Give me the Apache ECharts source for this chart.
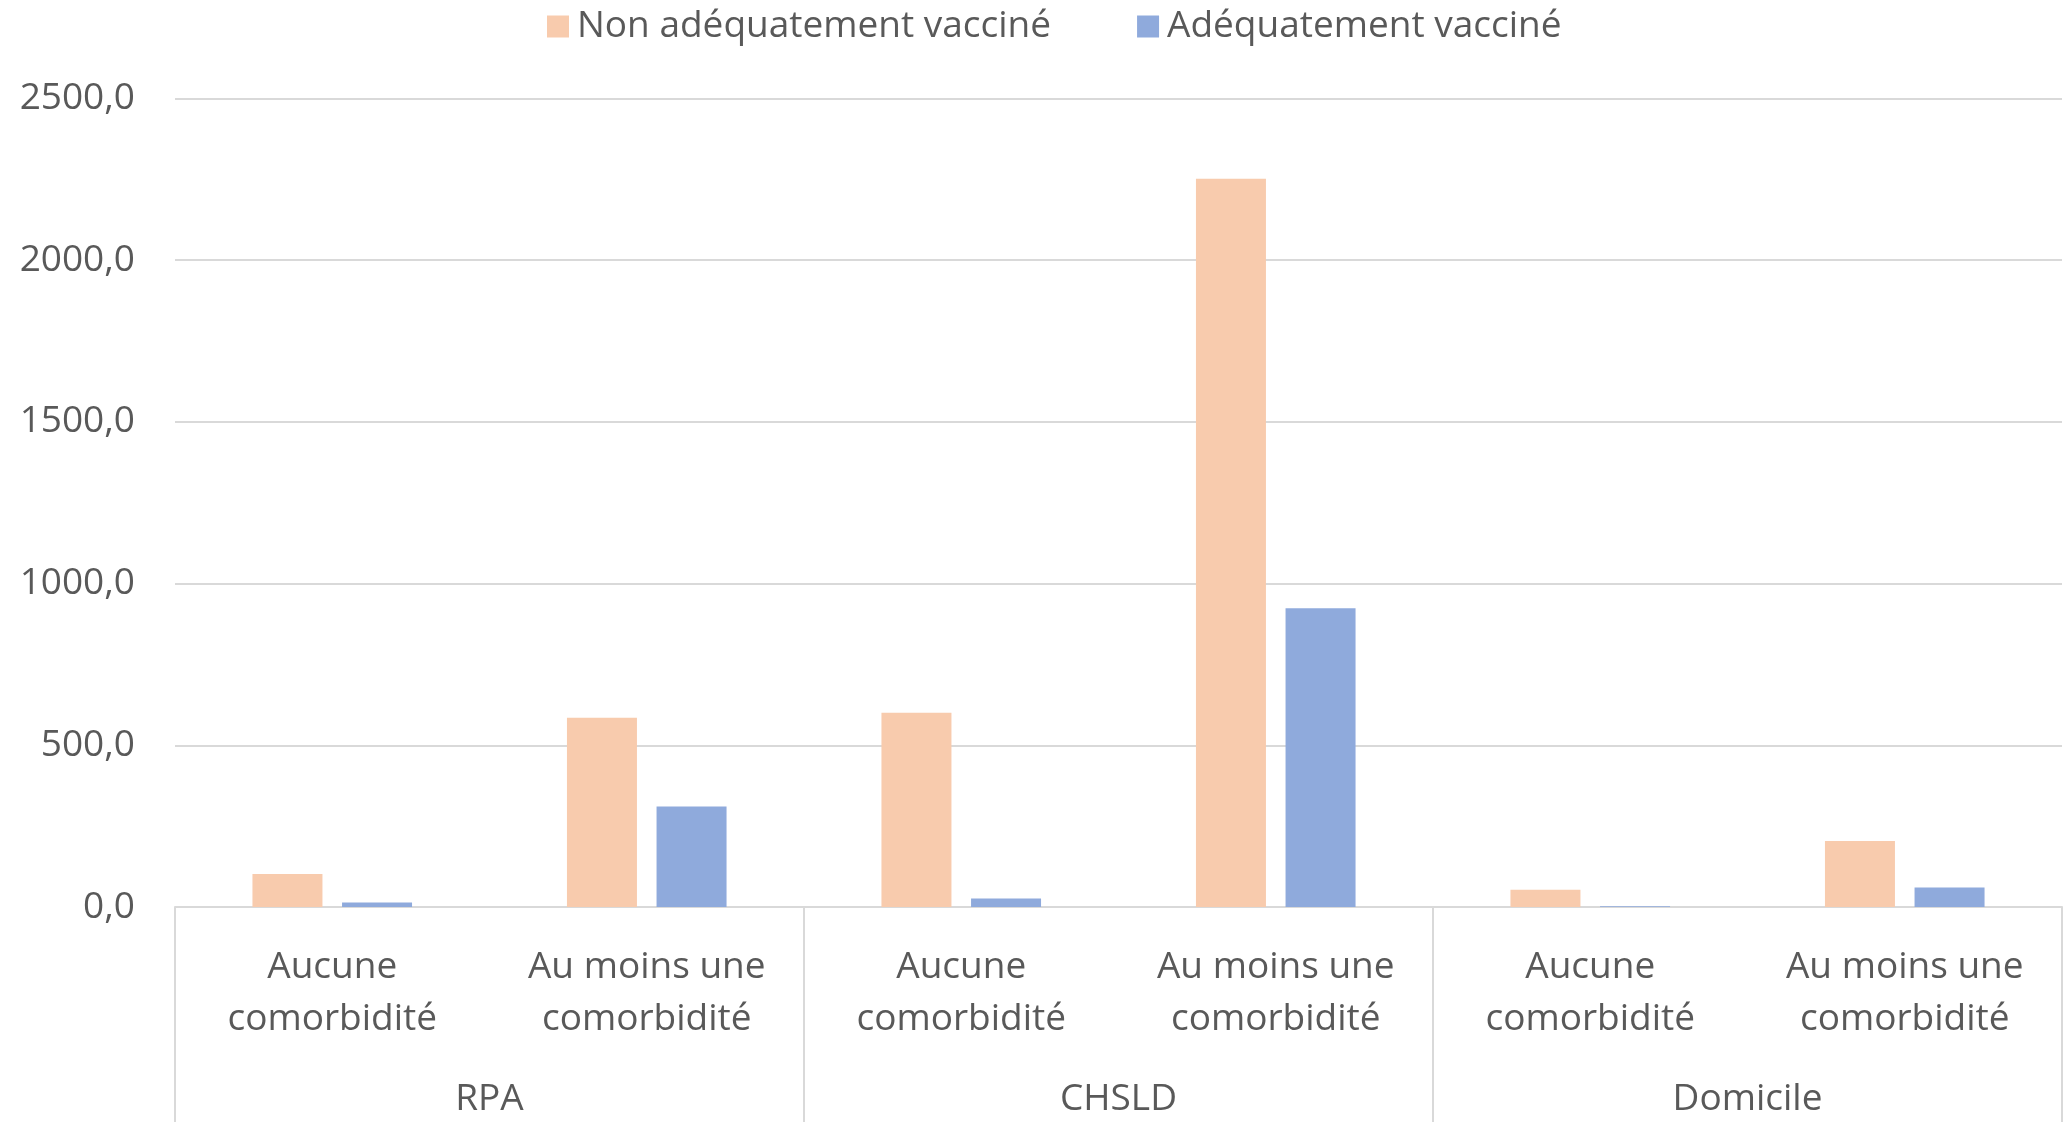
<!DOCTYPE html>
<html>
<head>
<meta charset="utf-8">
<script src="https://cdn.jsdelivr.net/npm/echarts@6/dist/echarts.min.js"></script>
<style>
  html, body { margin: 0; padding: 0; background: #ffffff; }
  #chart { width: 2069px; height: 1125px; }
</style>
</head>
<body>
<div id="chart"></div>
<script>
// Sub-categories (inner level) and living settings (outer level)
const subCategories = [
  'Aucune\ncomorbidité', 'Au moins une\ncomorbidité',
  'Aucune\ncomorbidité', 'Au moins une\ncomorbidité',
  'Aucune\ncomorbidité', 'Au moins une\ncomorbidité'
];
const groups = ['RPA', 'CHSLD', 'Domicile'];

const seriesNames = ['Non adéquatement vacciné', 'Adéquatement vacciné'];

const nonAdequat = [101.7, 585.0, 601.0, 2252.0, 53.0, 204.0];
const adequat = [14.0, 311.0, 26.5, 924.0, 2.0, 60.0];

const yTicks = { min: 0, max: 2500, interval: 500 };

const FONT = '"Open Sans", "Noto Sans", sans-serif';
const TEXT = '#595959';
const LINE = '#d9d9d9';
const FS = 37;

const chart = echarts.init(document.getElementById('chart'), null, { renderer: 'canvas' });

chart.setOption({
  animation: false,
  backgroundColor: '#ffffff',
  textStyle: { fontFamily: FONT },
  legend: {
    top: 3,
    left: 542,
    itemWidth: 22,
    itemHeight: 22,
    itemGap: 86,
    icon: 'rect',
    textStyle: { fontSize: FS, color: TEXT, fontFamily: FONT, padding: [0, 0, 0, 3] },
    data: seriesNames
  },
  grid: { left: 175, right: 7, top: 98.5, bottom: 208, containLabel: false },
  xAxis: [
    {
      type: 'category',
      data: subCategories,
      position: 'bottom',
      axisLine: { show: true, lineStyle: { color: LINE, width: 2 } },
      axisTick: { show: false },
      axisLabel: {
        interval: 0,
        margin: 34,
        fontSize: FS,
        lineHeight: 52,
        color: TEXT,
        fontFamily: FONT
      }
    },
    {
      type: 'category',
      data: groups,
      position: 'bottom',
      axisLine: { show: false },
      axisTick: { show: true, length: 215, lineStyle: { color: LINE, width: 2 } },
      axisLabel: {
        interval: 0,
        margin: 166,
        fontSize: FS,
        lineHeight: 52,
        color: TEXT,
        fontFamily: FONT
      },
      splitLine: { show: false }
    }
  ],
  yAxis: {
    type: 'value',
    min: yTicks.min,
    max: yTicks.max,
    interval: yTicks.interval,
    axisLine: { show: false },
    axisTick: { show: false },
    splitLine: { lineStyle: { color: LINE, width: 2 } },
    axisLabel: {
      margin: 40,
      fontSize: FS,
      color: TEXT,
      fontFamily: FONT,
      formatter: v => v.toFixed(1).replace('.', ',')
    }
  },
  series: [
    {
      name: seriesNames[0],
      type: 'bar',
      xAxisIndex: 0,
      data: nonAdequat,
      barWidth: 70,
      barGap: '28%',
      itemStyle: { color: '#F8CBAD' }
    },
    {
      name: seriesNames[1],
      type: 'bar',
      xAxisIndex: 0,
      data: adequat,
      barWidth: 70,
      barGap: '28%',
      itemStyle: { color: '#8FAADC' }
    }
  ]
});
</script>
</body>
</html>
